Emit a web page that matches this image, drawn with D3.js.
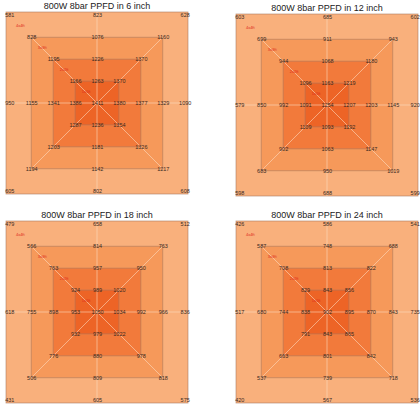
<!DOCTYPE html>
<html>
<head>
<meta charset="utf-8">
<script src="https://cdn.jsdelivr.net/npm/d3@7"></script>
<style>
  body { margin: 0; background: #fff; }
  text { font-family: "Liberation Sans", Arial, sans-serif; }
</style>
</head>
<body>
<script>
// data: one entry per mounting height
var heights = ["6 inch", "12 inch", "18 inch", "24 inch"];
var center = [1411, 1254, 1050, 902];
// ring order: TL, T, TR, L, R, BL, B, BR
var ring1 = [
  [1166, 1263, 1370, 1386, 1380, 1287, 1236, 1354],
  [1096, 1163, 1219, 1091, 1207, 1109, 1093, 1192],
  [924, 989, 1020, 953, 1034, 932, 979, 1022],
  [829, 843, 856, 838, 895, 791, 843, 865]
];
var ring2 = [
  [1195, 1226, 1370, 1341, 1377, 1203, 1181, 1326],
  [944, 1068, 1180, 992, 1203, 902, 1063, 1147],
  [763, 957, 950, 898, 992, 776, 880, 978],
  [708, 813, 822, 744, 870, 663, 801, 842]
];
var ring3 = [
  [828, 1076, 1160, 1155, 1329, 1194, 1142, 1217],
  [699, 911, 943, 850, 1145, 683, 950, 1019],
  [566, 814, 763, 755, 966, 506, 809, 818],
  [587, 748, 688, 680, 843, 537, 739, 718]
];
var ring4 = [
  [581, 823, 628, 950, 1090, 605, 802, 608],
  [603, 685, 602, 579, 920, 598, 688, 599],
  [479, 658, 512, 618, 836, 431, 605, 575],
  [426, 586, 541, 517, 735, 420, 567, 536]
];
var zoneLabels = ["1x1ft", "2x2ft", "3x3ft", "4x4ft"];

// layout
var size = 182;
var origins = [[6, 12], [236, 14], [6, 221], [236, 221]];
var slots = [[-1,-1],[0,-1],[1,-1],[-1,0],[1,0],[-1,1],[0,1],[1,1]];
var fills = ["#f9b07c", "#f6995a", "#f27a3b", "#ed6426"];

var svg = d3.select("body").append("svg")
    .attr("width", 420)
    .attr("height", 407);

var rings = [ring1, ring2, ring3, ring4];

heights.forEach(function(h, p) {
  var ox = origins[p][0], oy = origins[p][1];
  var x = d3.scaleLinear().domain([-4.15, 4.15]).range([ox, ox + size]);
  var y = d3.scaleLinear().domain([-4.15, 4.15]).range([oy, oy + size]);
  var g = svg.append("g");

  // title
  g.append("text")
      .attr("x", x(0))
      .attr("y", oy - 3)
      .attr("text-anchor", "middle")
      .attr("font-size", "9px")
      .attr("fill", "#222")
      .text("800W 8bar PPFD in " + h);

  // zones, outer first
  [4.15, 3, 2, 1].forEach(function(r, i) {
    g.append("rect")
        .attr("x", x(-r))
        .attr("y", y(-r))
        .attr("width", x(r) - x(-r))
        .attr("height", y(r) - y(-r))
        .attr("fill", fills[i])
        .attr("stroke", "#a8775c")
        .attr("stroke-opacity", 0.7)
        .attr("stroke-width", 0.8);
  });

  // light guide lines
  var guides = [
    [0, -4.15, 0, 4.15], [-4.15, 0, 4.15, 0],
    [-3, -3, 3, 3], [3, -3, -3, 3]
  ];
  g.selectAll(".guide").data(guides).enter().append("line")
      .attr("x1", function(d) { return x(d[0]); })
      .attr("y1", function(d) { return y(d[1]); })
      .attr("x2", function(d) { return x(d[2]); })
      .attr("y2", function(d) { return y(d[3]); })
      .attr("stroke", "#fde0c8")
      .attr("stroke-opacity", 0.8)
      .attr("stroke-width", 0.7);

  // zone names
  zoneLabels.forEach(function(z, i) {
    var r = i + 0.5;
    g.append("text")
        .attr("x", x(-r))
        .attr("y", y(-r))
        .attr("text-anchor", "middle")
        .attr("dominant-baseline", "middle")
        .attr("font-size", "4px")
        .attr("fill", "#e0281c")
        .text(z);
  });

  // values
  var pts = [{gx: 0, gy: 0, v: center[p]}];
  rings.forEach(function(ring, i) {
    ring[p].forEach(function(v, k) {
      pts.push({gx: slots[k][0] * (i + 1), gy: slots[k][1] * (i + 1), v: v});
    });
  });
  g.selectAll(".val").data(pts).enter().append("text")
      .attr("x", function(d) { return x(d.gx) + 0.5; })
      .attr("y", function(d) { return y(d.gy) + 1.8; })
      .attr("text-anchor", "middle")
      .attr("font-size", "5.5px")
      .attr("fill", "#3a2a22")
      .text(function(d) { return d.v; });
});
</script>
</body>
</html>
